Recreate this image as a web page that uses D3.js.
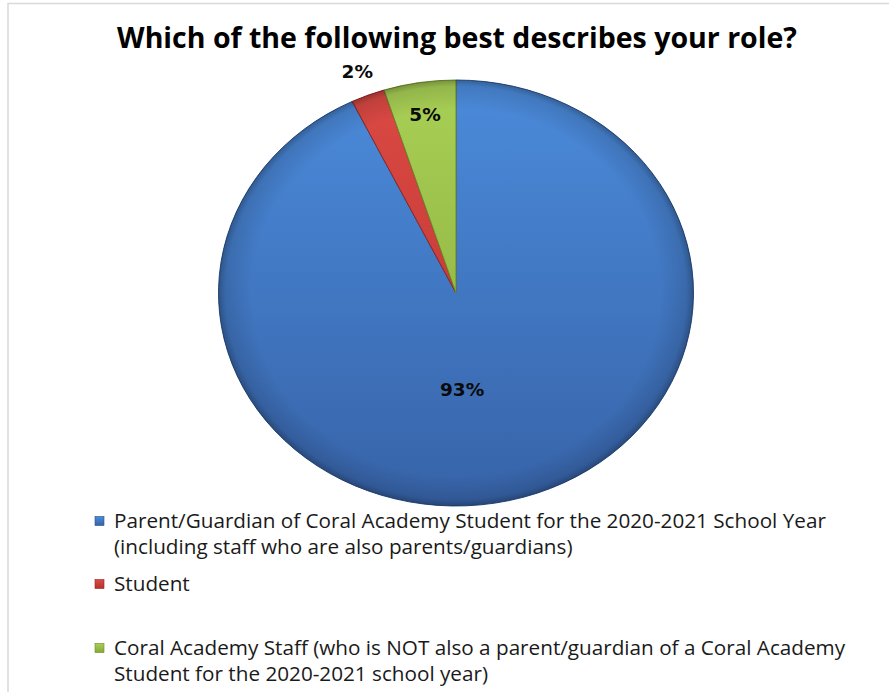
<!DOCTYPE html>
<html><head><meta charset="utf-8">
<script src="https://cdn.jsdelivr.net/npm/d3@7"></script>
<style>html,body{margin:0;padding:0;background:#fff;overflow:hidden}</style>
</head><body>
<svg id="c" width="889" height="692"></svg>
<script>
const title = "Which of the following best describes your role?";
const categories = ["Parent/Guardian", "Student", "Coral Academy Staff"];
const values = [92.8, 2.3, 4.9];
const labels = ["93%", "2%", "5%"];
const legendLines = [
  ["Parent/Guardian of Coral Academy Student for the 2020-2021 School Year", "(including staff who are also parents/guardians)"],
  ["Student"],
  ["Coral Academy Staff (who is NOT also a parent/guardian of a Coral Academy", "Student for the 2020-2021 school year)"]
];
const colTop = ["#4b8bdb", "#dc4a45", "#a8cf55"];
const colBot = ["#3763a8", "#b5302c", "#86a83a"];
const colEdge = ["#2b4f85", "#8f2522", "#6b8a2a"];
const labelR = [0.455, 1.12, 0.85];
const labelAngleShift = [0.17, 0, 0];

const svg = d3.select("#c");
const defs = svg.append("defs");

// frame
svg.append("rect").attr("x", 8).attr("y", 3.5).attr("width", 900).attr("height", 720)
  .attr("fill", "#fff").attr("stroke", "#d9d9d9").attr("stroke-width", 1.5);

// title
const t = svg.append("text").attr("x", 457).attr("y", 48).attr("text-anchor", "middle")
  .attr("font-family", "'Open Sans', sans-serif").attr("font-weight", "bold")
  .attr("font-size", 26).attr("fill", "#000").text(title);
{ const w = t.node().getComputedTextLength(); t.attr("font-size", 26 * 680 / w); }

// pie
const cx = 456, cy = 293, rx = 237.5, ry = 213;
const pie = d3.pie().sort(null).value(d => d)(values);
const arc = d3.arc().innerRadius(0).outerRadius(ry);

categories.forEach((c, i) => {
  const g = defs.append("linearGradient").attr("id", "lg" + i)
    .attr("gradientUnits", "userSpaceOnUse").attr("x1", 0).attr("y1", -ry).attr("x2", 0).attr("y2", ry);
  g.append("stop").attr("offset", 0).attr("stop-color", colTop[i]);
  g.append("stop").attr("offset", 1).attr("stop-color", colBot[i]);
});
const rg = defs.append("radialGradient").attr("id", "rim")
  .attr("gradientUnits", "userSpaceOnUse").attr("cx", 0).attr("cy", 0).attr("r", ry);
rg.append("stop").attr("offset", 0.86).attr("stop-color", "#000").attr("stop-opacity", 0);
rg.append("stop").attr("offset", 0.97).attr("stop-color", "#000").attr("stop-opacity", 0.12);
rg.append("stop").attr("offset", 1).attr("stop-color", "#000").attr("stop-opacity", 0.3);

const pg = svg.append("g").attr("transform", `translate(${cx},${cy}) scale(${rx / ry},1)`);
pg.selectAll("path.s").data(pie).join("path").attr("class", "s")
  .attr("d", arc).attr("fill", (d, i) => `url(#lg${i})`)
  .attr("stroke", (d, i) => colEdge[i]).attr("stroke-width", 1)
  .attr("vector-effect", "non-scaling-stroke");
pg.selectAll("path.r").data(pie).join("path").attr("class", "r")
  .attr("d", arc).attr("fill", "url(#rim)");

// labels
const mid = (d, i) => (d.startAngle + d.endAngle) / 2 + labelAngleShift[i];
svg.selectAll("text.lbl").data(pie).join("text").attr("class", "lbl")
  .attr("x", (d, i) => cx + Math.sin(mid(d, i)) * rx * labelR[i])
  .attr("y", (d, i) => cy - Math.cos(mid(d, i)) * ry * labelR[i])
  .attr("dy", "0.36em").attr("text-anchor", "middle")
  .attr("font-family", "'DejaVu Sans', Verdana, sans-serif").attr("font-weight", "bold")
  .attr("font-size", 18.5).attr("fill", "#0a0a0a").text((d, i) => labels[i]);

// legend
const legY = [521, 584, 648];
const lineH = 26;
const lf = 20;
const lg = svg.append("g");
categories.forEach((c, i) => {
  const mg = defs.append("linearGradient").attr("id", "mk" + i).attr("x1", 0).attr("y1", 0).attr("x2", 0).attr("y2", 1);
  mg.append("stop").attr("offset", 0).attr("stop-color", colTop[i]);
  mg.append("stop").attr("offset", 1).attr("stop-color", colBot[i]);
  lg.append("rect").attr("x", 95).attr("y", legY[i] - 4.5).attr("width", 9).attr("height", 9)
    .attr("fill", `url(#mk${i})`).attr("stroke", colEdge[i]).attr("stroke-width", 0.6);
  legendLines[i].forEach((s, j) => {
    lg.append("text").attr("class", "lt").attr("x", 114).attr("y", legY[i] + j * lineH)
      .attr("dy", "0.35em").attr("font-family", "'Open Sans', sans-serif")
      .attr("font-size", lf).attr("fill", "#1a1a1a").text(s);
  });
});
{
  const first = lg.select("text.lt").node();
  const w = first.getComputedTextLength();
  lg.selectAll("text.lt").attr("font-size", lf * 712 / w);
}
</script>
</body></html>
